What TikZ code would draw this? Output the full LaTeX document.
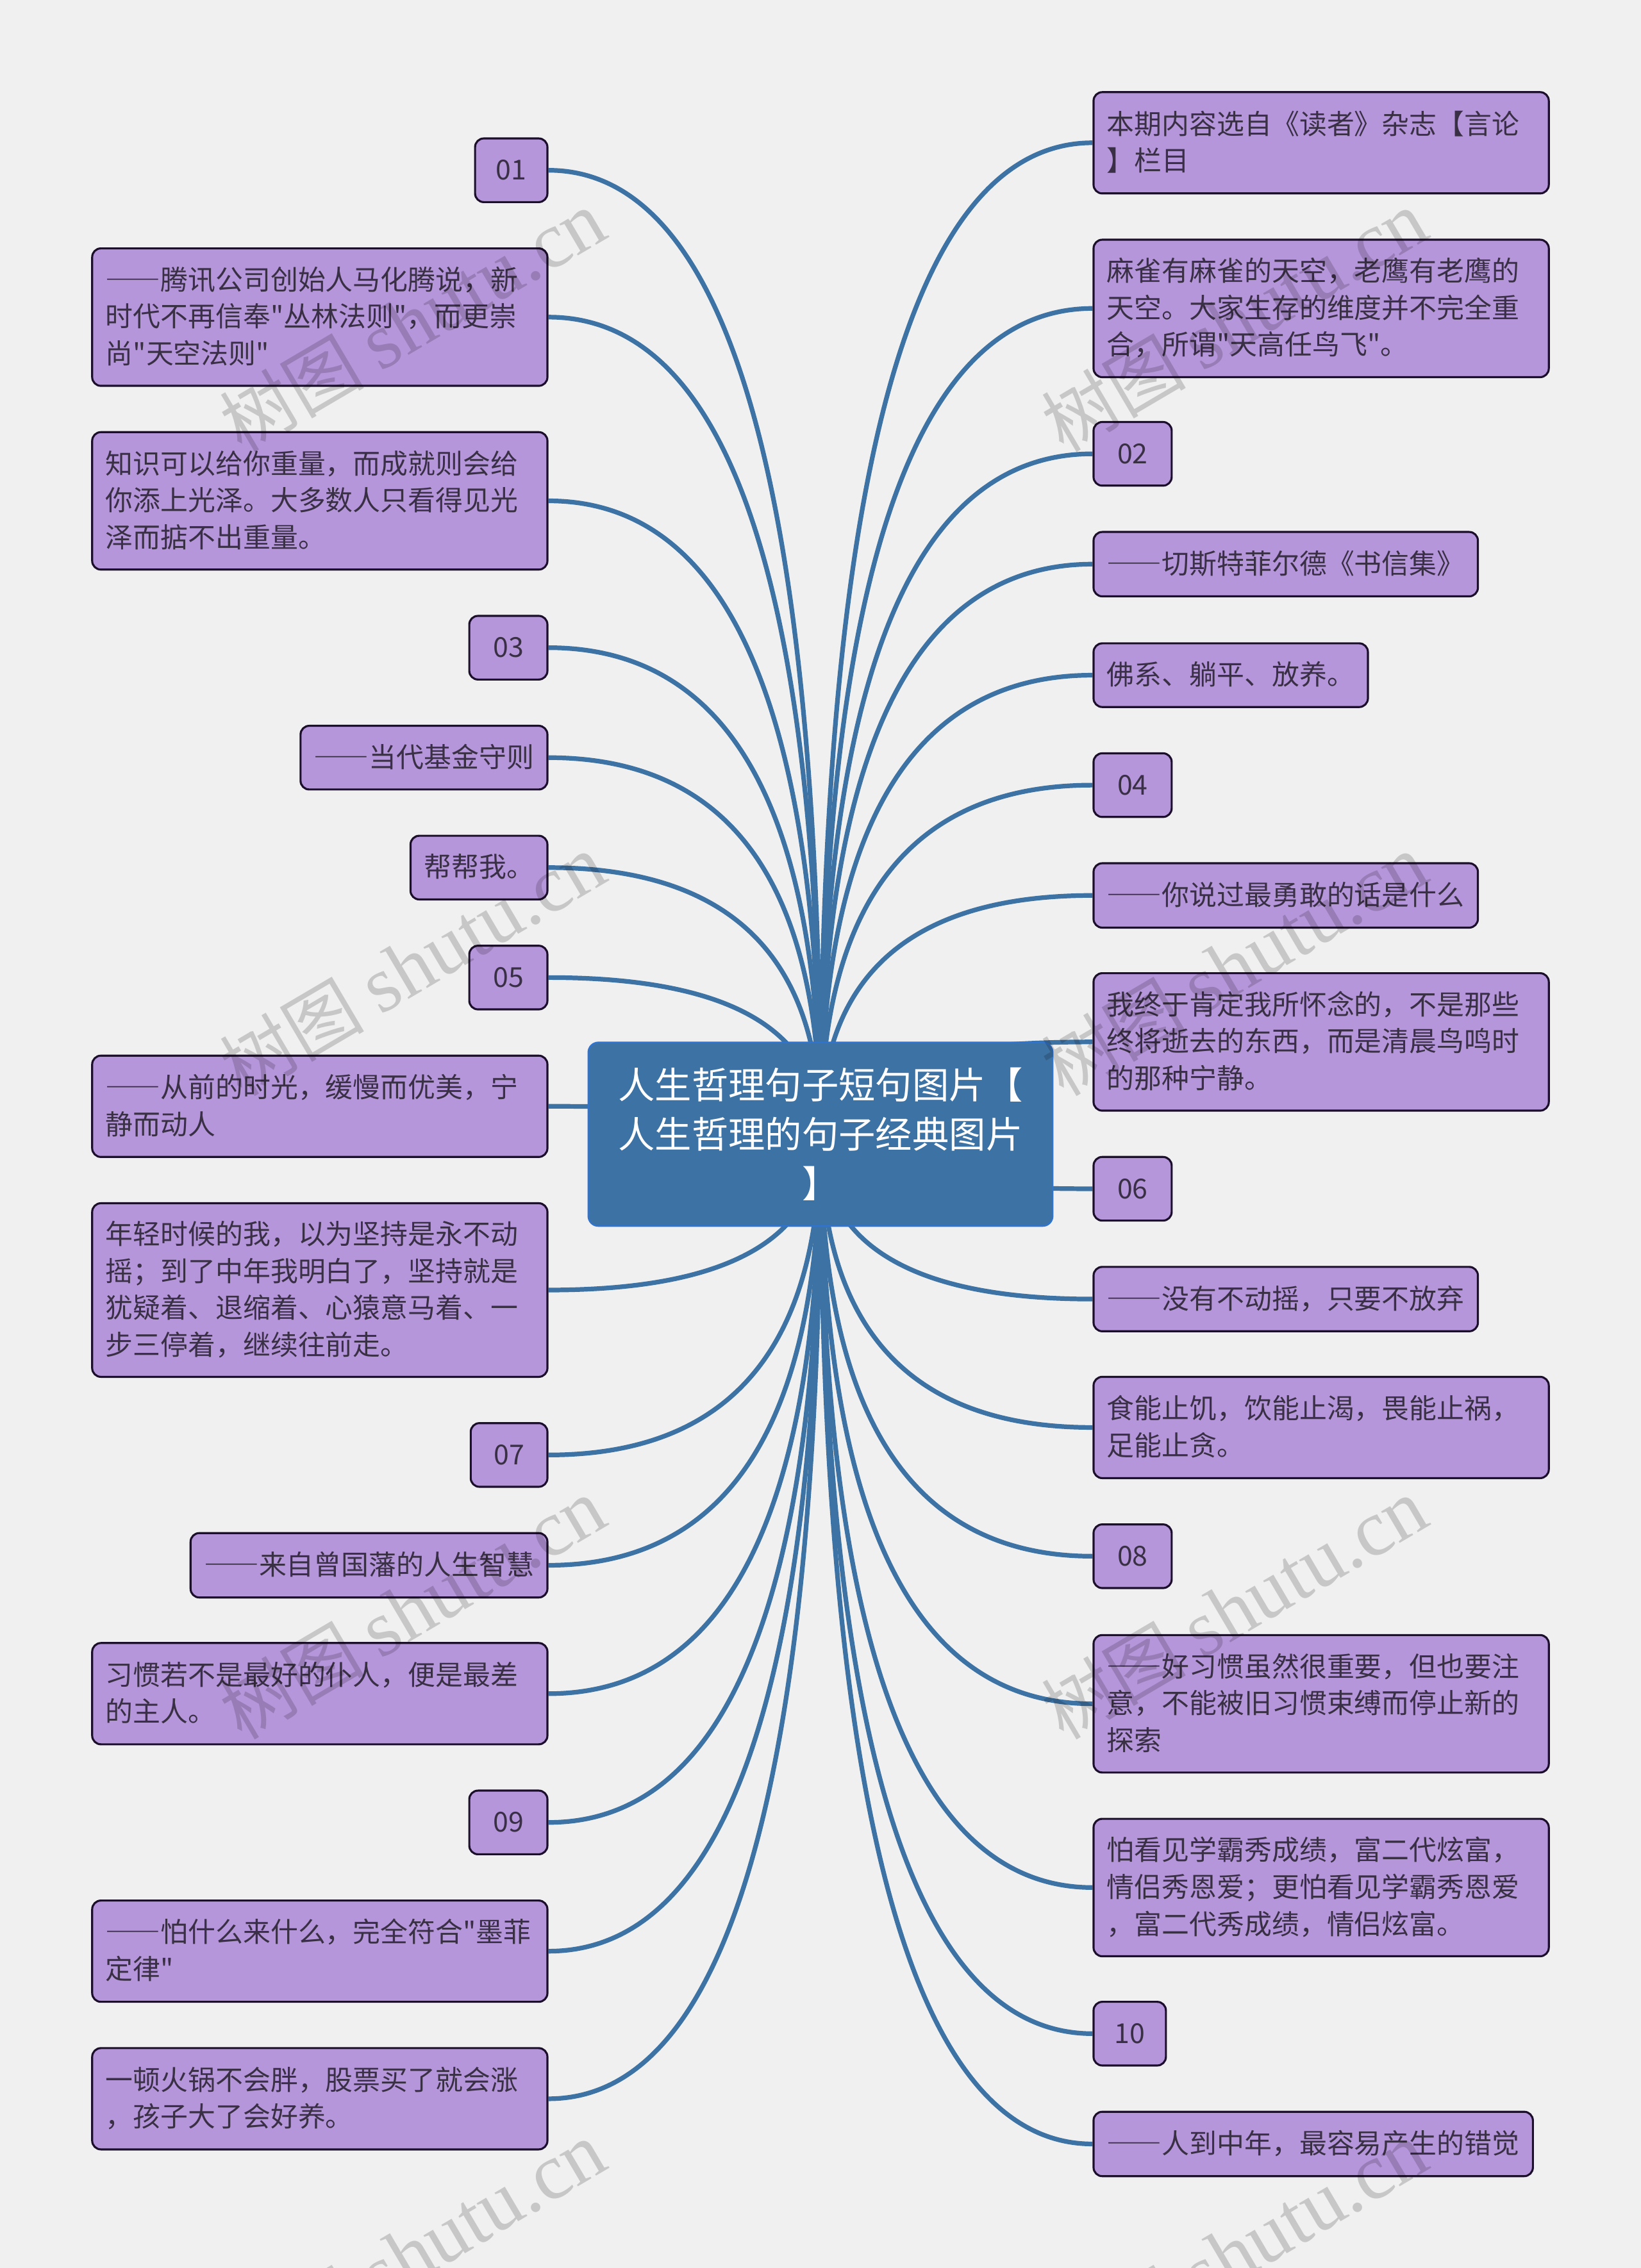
\documentclass[tikz,border=0pt]{standalone}
\usepackage{fontspec}
\newfontfamily\bodyhan{Noto Sans CJK SC}
\newfontfamily\dashhan{Noto Sans CJK SC}[RawFeature=+fwid]
\newfontfamily\marklat{Liberation Serif}
\usetikzlibrary{calc,backgrounds}

\definecolor{pagegray}{HTML}{F0F0F0}
\definecolor{leaffill}{HTML}{B696DB}
\definecolor{leafline}{HTML}{1C0F2B}
\definecolor{leaftext}{HTML}{3A3045}
\definecolor{rootblue}{HTML}{3D72A4}
\definecolor{rootline}{HTML}{2F74D0}

\tikzset{
	leaf/.style={draw=leafline, fill=leaffill, text=leaftext, line width=1.4pt, rounded corners=6pt,
		inner xsep=9.3pt, inner ysep=0pt, align=left, font=\bodyhan\fontsize{19}{25.5}\selectfont,
		execute at begin node=\rule{0pt}{18pt}, execute at end node=\rule[-4.6pt]{0pt}{0pt}},
	wide/.style={leaf, text width=296pt},
	num/.style={leaf, align=center, inner xsep=0pt, minimum height=44pt},
	twig/.style={draw=rootblue, line width=3.2pt},
	rootbox/.style={draw=rootline, fill=rootblue, text=white, line width=1pt, rounded corners=7pt,
		align=center, text width=300pt, minimum width=321pt, minimum height=127pt, inner sep=0pt,
		font=\bodyhan\fontsize{25.4}{34}\selectfont},
	stamp/.style={text=black, text opacity=0.17, rotate=30.5, font=\bodyhan\fontsize{50}{50}\selectfont}
}
\newcommand{\dashes}{{\dashhan ——}}
\newcommand{\brand}{树图 {\marklat\fontsize{55}{55}\selectfont shutu.cn}}
% side curve from the middle of the root out to one leaf
\newcommand{\twig}[2]{\draw[twig] (root.center) .. controls ($(root.center)!2/3!(root.center |- #1.#2)$)
	and ($(#1.#2)!2/3!(root.center |- #1.#2)$) .. (#1.#2);}

\begin{document}
\begin{tikzpicture}[x=1pt,y=-1pt]
\useasboundingbox (0,0) rectangle (1134,1567.7);

\node[rootbox] (root) at (567,784) {人生哲理句子短句图片【\\人生哲理的句子经典图片\\】};

% left side
\node[num, anchor=north east, minimum width=50pt] (l01) at (379,95) {01};
\node[wide, anchor=north east, minimum height=95pt] (l02) at (379,171) {\dashes 腾讯公司创始人马化腾说，新\\时代不再信奉"丛林法则"，而更崇\\尚"天空法则"};
\node[wide, anchor=north east, minimum height=95pt] (l03) at (379,298) {知识可以给你重量，而成就则会给\\你添上光泽。大多数人只看得见光\\泽而掂不出重量。};
\node[num, anchor=north east, minimum width=54pt] (l04) at (379,425) {03};
\node[leaf, anchor=north east, minimum height=44pt] (l05) at (379,501) {\dashes 当代基金守则};
\node[leaf, anchor=north east, minimum height=44pt] (l06) at (379,577) {帮帮我。};
\node[num, anchor=north east, minimum width=54pt] (l07) at (379,653) {05};
\node[wide, anchor=north east, minimum height=70pt] (l08) at (379,729) {\dashes 从前的时光，缓慢而优美，宁\\静而动人};
\node[wide, anchor=north east, minimum height=120pt] (l09) at (379,831) {年轻时候的我，以为坚持是永不动\\摇；到了中年我明白了，坚持就是\\犹疑着、退缩着、心猿意马着、一\\步三停着，继续往前走。};
\node[num, anchor=north east, minimum width=53pt] (l10) at (379,983) {07};
\node[leaf, anchor=north east, minimum height=44.5pt] (l11) at (379,1059) {\dashes 来自曾国藩的人生智慧};
\node[wide, anchor=north east, minimum height=70pt] (l12) at (379,1135) {习惯若不是最好的仆人，便是最差\\的主人。};
\node[num, anchor=north east, minimum width=54pt] (l13) at (379,1237) {09};
\node[wide, anchor=north east, minimum height=70pt] (l14) at (379,1313) {\mbox{\dashes 怕什么来什么，完全符合"墨菲}\\定律"};
\node[wide, anchor=north east, minimum height=70pt] (l15) at (379,1415) {一顿火锅不会胖，股票买了就会涨\\，孩子大了会好养。};

% right side
\node[wide, anchor=north west, minimum height=70pt] (r01) at (755,63) {本期内容选自《读者》杂志【言论\\】栏目};
\node[wide, anchor=north west, minimum height=95pt] (r02) at (755,165) {麻雀有麻雀的天空，老鹰有老鹰的\\天空。大家生存的维度并不完全重\\合，所谓"天高任鸟飞"。};
\node[num, anchor=north west, minimum width=54pt] (r03) at (755,291) {02};
\node[leaf, anchor=north west, minimum height=44.5pt] (r04) at (755,367) {\dashes 切斯特菲尔德《书信集》};
\node[leaf, anchor=north west, minimum height=44pt] (r05) at (755,444) {佛系、躺平、放养。};
\node[num, anchor=north west, minimum width=54pt] (r06) at (755,520) {04};
\node[leaf, anchor=north west, minimum height=44.5pt] (r07) at (755,596) {\dashes 你说过最勇敢的话是什么};
\node[wide, anchor=north west, minimum height=95pt] (r08) at (755,672) {我终于肯定我所怀念的，不是那些\\终将逝去的东西，而是清晨鸟鸣时\\的那种宁静。};
\node[num, anchor=north west, minimum width=54pt] (r09) at (755,799) {06};
\node[leaf, anchor=north west, minimum height=44.5pt] (r10) at (755,875) {\dashes 没有不动摇，只要不放弃};
\node[wide, anchor=north west, minimum height=70pt] (r11) at (755,951) {食能止饥，饮能止渴，畏能止祸，\\足能止贪。};
\node[num, anchor=north west, minimum width=54pt] (r12) at (755,1053) {08};
\node[wide, anchor=north west, minimum height=95pt] (r13) at (755,1129.5) {\dashes 好习惯虽然很重要，但也要注\\意，不能被旧习惯束缚而停止新的\\探索};
\node[wide, anchor=north west, minimum height=95pt] (r14) at (755,1256.5) {怕看见学霸秀成绩，富二代炫富，\\情侣秀恩爱；更怕看见学霸秀恩爱\\，富二代秀成绩，情侣炫富。};
\node[num, anchor=north west, minimum width=50pt] (r15) at (755,1383) {10};
\node[leaf, anchor=north west, minimum height=44.5pt] (r16) at (755,1459) {\dashes 人到中年，最容易产生的错觉};

\begin{scope}[on background layer]
\fill[pagegray] (0,0) rectangle (1134,1567.7);
\twig{l01}{east} \twig{l02}{east} \twig{l03}{east} \twig{l04}{east} \twig{l05}{east}
\twig{l06}{east} \twig{l07}{east} \twig{l08}{east} \twig{l09}{east} \twig{l10}{east}
\twig{l11}{east} \twig{l12}{east} \twig{l13}{east} \twig{l14}{east} \twig{l15}{east}
\twig{r01}{west} \twig{r02}{west} \twig{r03}{west} \twig{r04}{west} \twig{r05}{west}
\twig{r06}{west} \twig{r07}{west} \twig{r08}{west} \twig{r09}{west} \twig{r10}{west}
\twig{r11}{west} \twig{r12}{west} \twig{r13}{west} \twig{r14}{west} \twig{r15}{west}
\twig{r16}{west}
\end{scope}

% watermark
\node[stamp] (w1) at (285,222) {\brand};
\node[stamp] (w2) at (853,222) {\brand};
\node[stamp] (w3) at (285,667) {\brand};
\node[stamp] (w4) at (853,667) {\brand};
\node[stamp] (w5) at (285,1112) {\brand};
\node[stamp] (w6) at (853,1112) {\brand};
\node[stamp] (w7) at (285,1557) {\brand};
\node[stamp] (w8) at (853,1557) {\brand};
\end{tikzpicture}
\end{document}
